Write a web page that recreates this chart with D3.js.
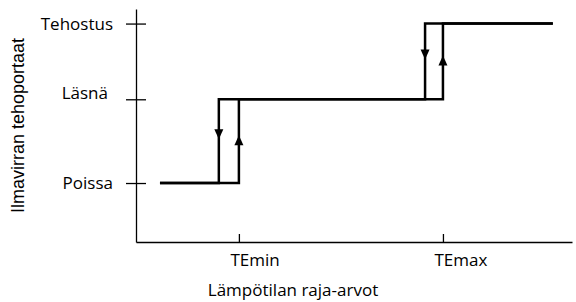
<!DOCTYPE html>
<html>
<head>
<meta charset="utf-8">
<script src="https://cdn.jsdelivr.net/npm/d3@7"></script>
<style>
  body { margin: 0; background: #fff; }
  svg { display: block; }
  .tick text { font-family: "Open Sans", sans-serif; font-size: 17px; font-weight: 500; fill: #000; }
</style>
</head>
<body>
<div class="chart"></div>
<script>
// power levels (y) and temperature limits (x)
var levels = ["Poissa", "Läsnä", "Tehostus"];
var levelValues = [0.81, 1.96, 3.0];
var limits = ["TEmin", "TEmax"];
var limitValues = [23.6, 70.4];
// where the level drops back when temperature falls
var dropValues = [19.0, 66.3];
var lineStart = 5.5,
    lineEnd = 95.6;

var width = 576,
    height = 302;

var svg = d3.select(".chart").append("svg")
    .attr("width", width)
    .attr("height", height);

var x = d3.scaleLinear().domain([0, 100]).range([136, 572]);
var y = d3.scaleLinear().domain([0, 3.2]).range([242, 9]);

// y axis, ticks cross the axis line
var yAxis = svg.append("g")
    .attr("transform", "translate(" + x(0) + ",0)")
    .call(d3.axisLeft(y)
      .tickValues(levelValues)
      .tickFormat(function(d, i) { return levels[i]; })
      .tickSize(0)
      .tickSizeOuter(0)
      .tickPadding(23));
yAxis.select(".domain").attr("stroke", "#000").attr("stroke-width", 1.3);
yAxis.selectAll(".tick line")
    .attr("x1", -10).attr("x2", 10)
    .attr("stroke", "#000").attr("stroke-width", 1.3);
yAxis.selectAll(".tick text")
    .attr("dy", function(d, i) { return levels[i] === "Läsnä" ? "-0.05em" : "0.32em"; })
    .attr("x", function(d, i) { return levels[i] === "Läsnä" ? -28 : -23; });

// x axis, short ticks pointing up
var xAxis = svg.append("g")
    .attr("transform", "translate(0," + y(0) + ")")
    .call(d3.axisBottom(x)
      .tickValues(limitValues)
      .tickFormat(function(d, i) { return limits[i]; })
      .tickSize(-8)
      .tickSizeOuter(0)
      .tickPadding(12));
xAxis.select(".domain").attr("stroke", "#000").attr("stroke-width", 1.3);
xAxis.selectAll(".tick line").attr("stroke", "#000").attr("stroke-width", 1.3);
xAxis.selectAll(".tick text")
    .attr("text-anchor", "start")
    .attr("x", -9);

// axis titles
svg.append("text")
    .attr("x", 293)
    .attr("y", 296)
    .attr("text-anchor", "middle")
    .style("font-family", "Open Sans, sans-serif")
    .style("font-size", "17px")
    .style("font-weight", 500)
    .text("Lämpötilan raja-arvot");

svg.append("text")
    .attr("transform", "translate(24," + ((y(0) + y(3.2)) / 2) + ") rotate(-90)")
    .attr("text-anchor", "middle")
    .style("font-family", "Liberation Sans, Arial, sans-serif")
    .style("font-size", "18px")
    .text("Ilmavirran tehoportaat");

// hysteresis steps
var P = levelValues[0], L = levelValues[1], T = levelValues[2];
var rising = [[lineStart, P], [limitValues[0], P], [limitValues[0], L],
              [limitValues[1], L], [limitValues[1], T], [lineEnd, T]];
var falling = [[lineEnd, T], [dropValues[1], T], [dropValues[1], L],
               [dropValues[0], L], [dropValues[0], P], [lineStart, P]];

var line = d3.line()
    .x(function(d) { return x(d[0]); })
    .y(function(d) { return y(d[1]); });

svg.selectAll("path.step")
    .data([rising, falling])
  .enter().append("path")
    .attr("class", "step")
    .attr("d", line)
    .attr("fill", "none")
    .attr("stroke", "#000")
    .attr("stroke-width", 2.5)
    .attr("stroke-linejoin", "miter");

// arrows on the vertical segments
var arrows = [
  { xv: limitValues[0], lo: P, hi: L, up: true },
  { xv: dropValues[0], lo: P, hi: L, up: false },
  { xv: limitValues[1], lo: L, hi: T, up: true },
  { xv: dropValues[1], lo: L, hi: T, up: false }
];

svg.selectAll("path.arrow")
    .data(arrows)
  .enter().append("path")
    .attr("class", "arrow")
    .attr("fill", "#000")
    .attr("d", function(d) {
      var cx = x(d.xv),
          mid = (y(d.lo) + y(d.hi)) / 2;
      if (d.up) {
        var tip = mid - 6;
        return "M" + cx + "," + tip + "L" + (cx + 4.5) + "," + (tip + 10) +
               "L" + (cx - 4.5) + "," + (tip + 10) + "Z";
      }
      var tipD = mid - 2;
      return "M" + cx + "," + tipD + "L" + (cx + 4.5) + "," + (tipD - 10) +
             "L" + (cx - 4.5) + "," + (tipD - 10) + "Z";
    });
</script>
</body>
</html>
